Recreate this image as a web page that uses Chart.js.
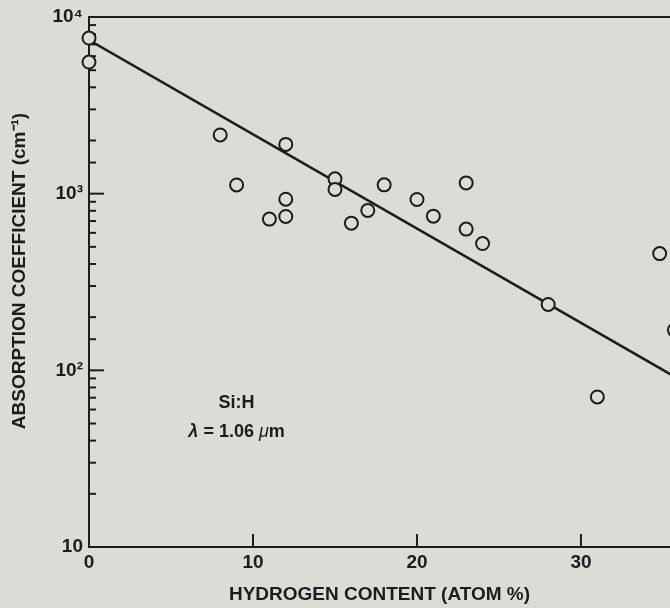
<!DOCTYPE html>
<html>
<head>
<meta charset="utf-8">
<script src="https://cdn.jsdelivr.net/npm/chart.js@4"></script>
<style>
  html, body { margin: 0; padding: 0; background: #dcdcd7; overflow: hidden; }
  canvas { display: block; }
</style>
</head>
<body>
<canvas id="absChart" width="670" height="608"></canvas>
<script>
// measured points (hydrogen atom %, absorption cm^-1)
const hydrogen = [0, 0, 8, 9, 11, 12, 12, 12, 15, 15, 16, 17, 18, 20, 21, 23, 23, 24, 28, 31, 34.8, 35.7];
const absorption = [7600, 5560, 2150, 1120, 718, 1900, 930, 743, 1213, 1057, 681, 804, 1122, 927, 746, 1151, 630, 522, 236, 70.7, 458, 169];

// fitted line end points
const fitX = [0, 36];
const fitY = [7400, 89];

const xTicks = [0, 10, 20, 30];
const yTickLabels = { 10: "10", 100: "10\u00b2", 1000: "10\u00b3", 10000: "10\u2074" };

const bg = "#dcdcd7";
const ink = "#1c1c1c";
const fontFamily = "'Liberation Sans', Arial, sans-serif";

// short tick marks pointing into the plot, frame line, labels
const innerTicks = {
  id: "innerTicks",
  beforeDatasetsDraw(chart) {
    const { ctx, chartArea, scales } = chart;
    ctx.save();
    ctx.strokeStyle = ink;
    ctx.lineWidth = 2;
    scales.y.ticks.forEach((t) => {
      const lg = Math.log10(t.value);
      const major = Math.abs(lg - Math.round(lg)) < 1e-6;
      const y = scales.y.getPixelForValue(t.value);
      ctx.beginPath();
      ctx.moveTo(chartArea.left, y);
      ctx.lineTo(chartArea.left + (major ? 15 : 7), y);
      ctx.stroke();
    });
    xTicks.slice(1).forEach((v) => {
      const x = scales.x.getPixelForValue(v);
      ctx.beginPath();
      ctx.moveTo(x, chartArea.bottom);
      ctx.lineTo(x, chartArea.bottom - 13);
      ctx.stroke();
    });
    // top frame line
    ctx.beginPath();
    ctx.moveTo(chartArea.left, chartArea.top);
    ctx.lineTo(chartArea.right, chartArea.top);
    ctx.stroke();
    ctx.restore();
  },
  afterDraw(chart) {
    const { ctx, scales } = chart;
    ctx.save();
    ctx.fillStyle = ink;
    ctx.textBaseline = "middle";
    ctx.textAlign = "center";

    // y axis title
    ctx.save();
    ctx.translate(20, 271);
    ctx.rotate(-Math.PI / 2);
    ctx.font = "bold 19px " + fontFamily;
    ctx.fillText("ABSORPTION COEFFICIENT (cm\u207b\u00b9)", 0, 0);
    ctx.restore();

    const cx = scales.x.getPixelForValue(9.0);
    ctx.font = "bold 18px " + fontFamily;
    ctx.fillText("Si:H", cx, scales.y.getPixelForValue(65));

    // λ = 1.06 μm with italic greek letters
    const parts = [
      ["λ", "italic bold 18px " + fontFamily],
      [" = 1.06 ", "bold 18px " + fontFamily],
      ["μ", "italic 18px " + fontFamily],
      ["m", "bold 18px " + fontFamily],
    ];
    let w = 0;
    parts.forEach((p) => { ctx.font = p[1]; w += ctx.measureText(p[0]).width; });
    let x = cx - w / 2;
    const y = scales.y.getPixelForValue(44.6);
    ctx.textAlign = "left";
    parts.forEach((p) => {
      ctx.font = p[1];
      ctx.fillText(p[0], x, y);
      x += ctx.measureText(p[0]).width;
    });
    ctx.restore();
  },
};

const ctx = document.getElementById("absChart").getContext("2d");

const chart = new Chart(ctx, {
  type: "scatter",
  data: {
    datasets: [
      {
        label: "points",
        data: hydrogen.map((h, i) => ({ x: h, y: absorption[i] })),
        pointRadius: 6.5,
        pointBorderWidth: 2,
        borderColor: ink,
        backgroundColor: bg,
        clip: false,
        order: 1,
      },
      {
        type: "line",
        label: "fit",
        data: fitX.map((h, i) => ({ x: h, y: fitY[i] })),
        borderColor: ink,
        borderWidth: 2.6,
        pointRadius: 0,
        fill: false,
        order: 2,
      },
    ],
  },
  options: {
    responsive: false,
    animation: false,
    layout: { autoPadding: false, padding: { top: 17, right: 0, left: 0, bottom: 0 } },
    plugins: {
      legend: { display: false },
      tooltip: { enabled: false },
    },
    scales: {
      x: {
        type: "linear",
        min: 0,
        max: 35.43,
        afterFit: (s) => { s.height = 61; s.paddingRight = 0; s.paddingLeft = 0; },
        grid: { display: false, drawTicks: false },
        border: { display: true, color: ink, width: 2 },
        ticks: {
          stepSize: 10,
          includeBounds: false,
          padding: 4,
          color: ink,
          font: { family: fontFamily, size: 19, weight: "bold" },
        },
        title: {
          display: true,
          text: "HYDROGEN CONTENT (ATOM %)",
          color: ink,
          font: { family: fontFamily, size: 19, weight: "bold" },
          padding: { top: 0, bottom: 2 },
        },
      },
      y: {
        type: "logarithmic",
        min: 10,
        max: 10000,
        afterFit: (s) => { s.width = 89; s.paddingTop = 0; s.paddingBottom = 0; },
        grid: { display: false, drawTicks: false },
        border: { display: true, color: ink, width: 2 },
        ticks: {
          autoSkip: false,
          padding: 6,
          color: ink,
          font: { family: fontFamily, size: 19, weight: "bold" },
          callback: (v) => yTickLabels[v] || "",
        },
        title: { display: false },
      },
    },
  },
  plugins: [innerTicks],
});
</script>
</body>
</html>
